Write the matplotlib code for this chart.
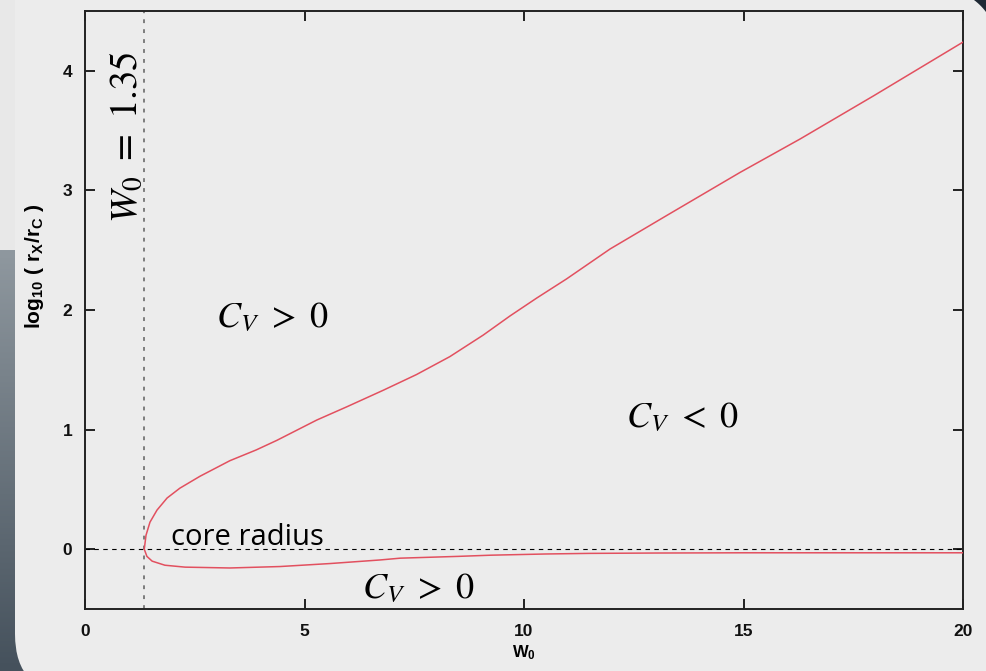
import numpy as np
import matplotlib
matplotlib.use("Agg")
import matplotlib.pyplot as plt
from matplotlib.patches import FancyBboxPatch, Polygon

# critical line log10(r_x/r_c) against W0, upper and lower branch from the turning point
w_upper = [1.35, 1.39, 1.48, 1.64, 1.87, 2.16, 2.62, 3.30, 3.90, 4.37, 5.28, 5.96, 6.80,
           7.55, 8.31, 9.07, 9.68, 10.29, 10.97, 11.96, 13.25, 14.92, 16.29, 17.96, 20.0]
logr_upper = [0.0, 0.117, 0.226, 0.327, 0.428, 0.51, 0.61, 0.74, 0.83, 0.91, 1.08, 1.19,
              1.33, 1.46, 1.61, 1.79, 1.95, 2.10, 2.26, 2.51, 2.79, 3.15, 3.43, 3.79, 4.24]
w_lower = [1.35, 1.41, 1.53, 1.82, 2.28, 3.30, 4.44, 5.58, 6.72, 7.18, 8.50, 9.25, 10.50,
           11.48, 13.0, 15.0, 17.5, 20.0]
logr_lower = [0.0, -0.06, -0.10, -0.134, -0.15, -0.157, -0.145, -0.12, -0.09, -0.075,
              -0.06, -0.05, -0.04, -0.035, -0.032, -0.03, -0.03, -0.03]

w0_crit = 1.35
xticks = [0, 5, 10, 15, 20]
yticks = [0, 1, 2, 3, 4]

plt.rcParams["mathtext.fontset"] = "custom"
plt.rcParams["mathtext.rm"] = "Liberation Sans:bold"
plt.rcParams["mathtext.it"] = "Liberation Sans:bold"
plt.rcParams["mathtext.bf"] = "Liberation Sans:bold"

panel = "#ececec"
fig = plt.figure(figsize=(9.87, 6.71), dpi=100, facecolor="#e8e8e8")

# slide backdrop in pixel units
bg = fig.add_axes([0, 0, 1, 1], zorder=-5)
bg.set_xlim(0, 987)
bg.set_ylim(671, 0)
bg.axis("off")
grad = np.linspace(0, 1, 200).reshape(-1, 1)
bg.imshow(grad, extent=[0, 120, 671, 250], aspect="auto",
          cmap=matplotlib.colors.LinearSegmentedColormap.from_list("g", ["#8f989f", "#45515c"]))
bg.add_patch(FancyBboxPatch((15, -300), 983, 994,
                            boxstyle="round,pad=0,rounding_size=60",
                            facecolor=panel, edgecolor="none"))
# dark rounded corner at the top right
t = np.linspace(0, np.pi / 2, 40)
corner = np.column_stack([938 + 60 * np.cos(t), 48 - 60 * np.sin(t)])
corner = np.vstack([corner, [[938, -20], [1000, -20], [1000, 48]]])
bg.add_patch(Polygon(corner, closed=True, facecolor="#1e2935", edgecolor="none"))

ax = fig.add_axes([85 / 987, 62 / 671, 878 / 987, 598 / 671])
ax.set_facecolor(panel)

w = w_lower[::-1] + w_upper[1:]
logr = logr_lower[::-1] + logr_upper[1:]
ax.plot(w, logr, color="#e2505f", lw=1.1, zorder=3)

ax.axhline(0, color="black", lw=0.8, ls=(0, (4, 4)), zorder=2)
ax.axvline(w0_crit, color="#5e5e5e", lw=1.1, ls=(0, (2.5, 4)), zorder=2)

ax.set_xlim(0, 20)
ax.set_ylim(-0.5, 4.5)
ax.set_xticks(xticks)
ax.set_yticks(yticks)
ax.tick_params(direction="in", length=7, width=1.3, top=True, right=True,
               labelsize=12.5, colors="#111111")
ax.tick_params(axis="x", pad=11)
ax.tick_params(axis="y", pad=9)
for lab in ax.get_xticklabels() + ax.get_yticklabels():
    lab.set_fontfamily("Liberation Sans")
    lab.set_fontweight("bold")
for sp in ax.spines.values():
    sp.set_linewidth(1.4)
    sp.set_color("#222222")

ax.set_xlabel(r"$\mathrm{W_0}$", fontsize=12, labelpad=3)
ax.set_ylabel(r"$\mathrm{log_{10}\ (\ r_X/r_C\ )}$", fontsize=15)
ax.yaxis.set_label_coords(-0.044, 0.574)

# region labels
ax.text(0.93, 3.45, r"$W_0\ =\ 1.35$", rotation=90, fontsize=28, ha="center",
        va="center", math_fontfamily="stix")
ax.text(4.26, 1.94, r"$C_V\ >\ 0$", fontsize=26, ha="center", va="center",
        math_fontfamily="stix")
ax.text(13.62, 1.10, r"$C_V\ <\ 0$", fontsize=26, ha="center", va="center",
        math_fontfamily="stix")
ax.text(7.59, -0.33, r"$C_V\ >\ 0$", fontsize=26, ha="center", va="center",
        math_fontfamily="stix")
ax.text(1.97, 0.10, "core radius", fontsize=21, family="Open Sans", ha="left", va="center")

fig.savefig("out.png", dpi=100, facecolor=fig.get_facecolor())
